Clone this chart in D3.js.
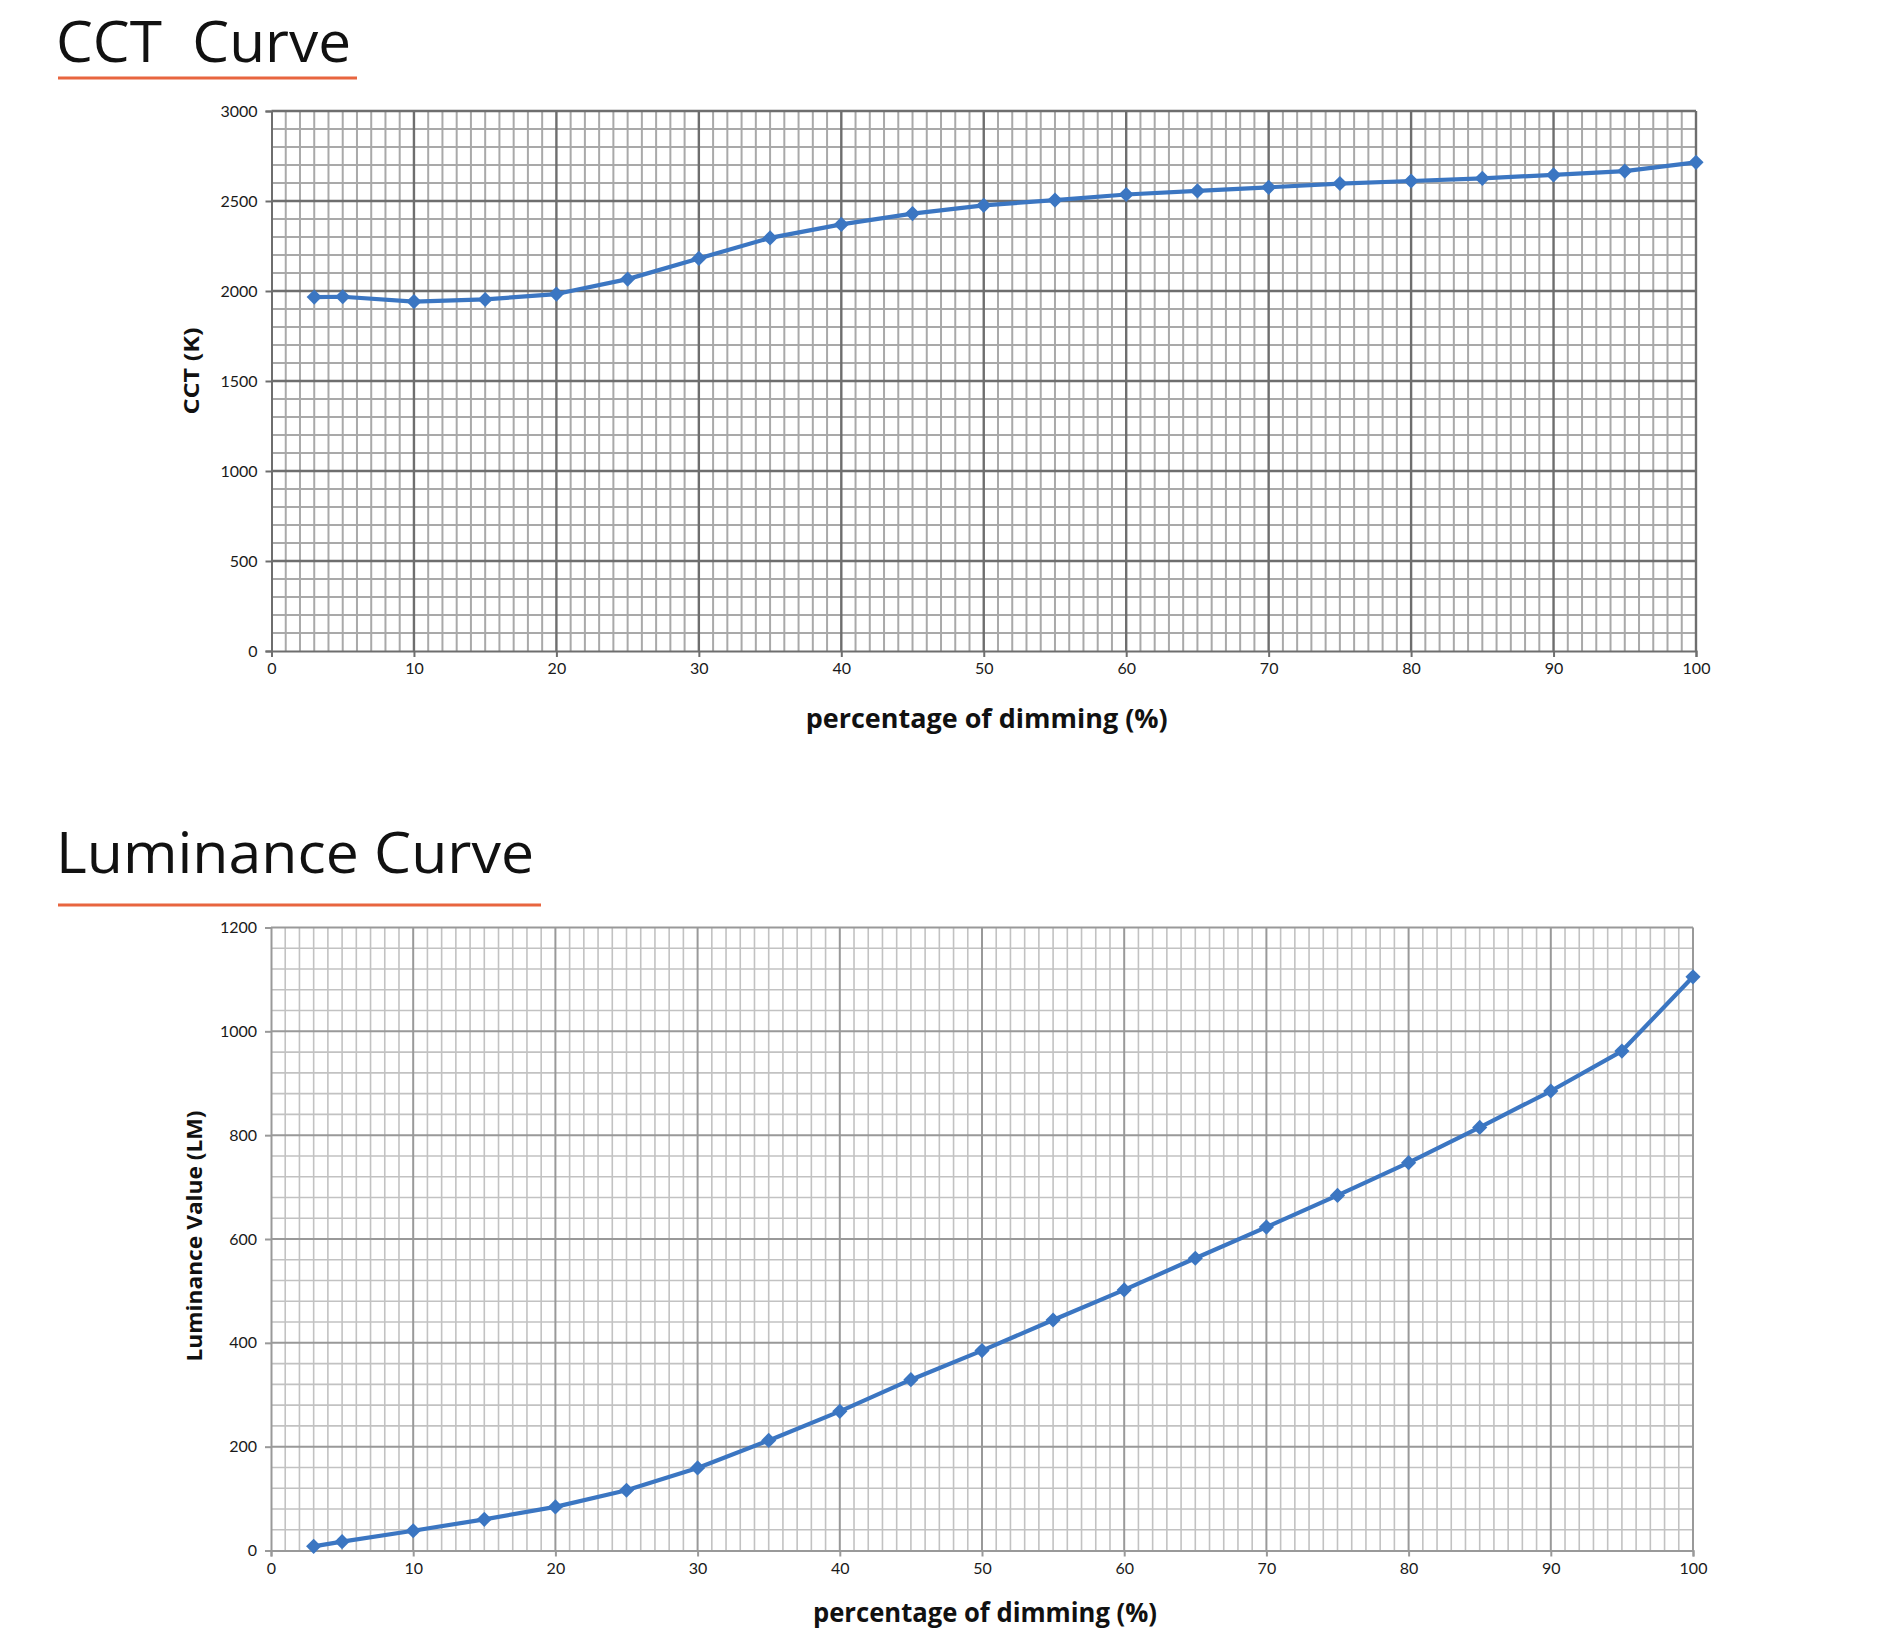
<!DOCTYPE html>
<html>
<head>
<meta charset="utf-8">
<script src="https://cdn.jsdelivr.net/npm/d3@7"></script>
<style>
  html, body { margin: 0; padding: 0; background: #ffffff; }
  svg { display: block; }
</style>
</head>
<body>
<svg id="chart" width="1900" height="1647"></svg>
<script>
// ---- data ----
const dimming = [3, 5, 10, 15, 20, 25, 30, 35, 40, 45, 50, 55, 60, 65, 70, 75, 80, 85, 90, 95, 100];
const cctValues = [1966, 1968, 1941, 1953, 1983, 2066, 2181, 2295, 2370, 2430, 2476, 2505, 2536, 2556, 2576, 2597, 2611, 2626, 2645, 2666, 2715];
const lumValues = [8, 17, 38, 60, 84, 116, 159, 212, 268, 329, 385, 444, 502, 563, 623, 684, 747, 815, 885, 962, 1105];
const xTicks = [0, 10, 20, 30, 40, 50, 60, 70, 80, 90, 100];
const cctTicks = [0, 500, 1000, 1500, 2000, 2500, 3000];
const lumTicks = [0, 200, 400, 600, 800, 1000, 1200];
const titles = ["CCT  Curve", "Luminance Curve"];
const xLabel = "percentage of dimming (%)";
const yLabels = ["CCT (K)", "Luminance Value (LM)"];

const svg = d3.select("#chart");
svg.append("rect").attr("width", 1900).attr("height", 1647).attr("fill", "#fff");

const LINE = "#3b76c2";

function drawChart(cfg) {
  const g = svg.append("g");
  const x = d3.scaleLinear().domain([0, 100]).range([cfg.left, cfg.right]);
  const y = d3.scaleLinear().domain([0, cfg.ymax]).range([cfg.bottom, cfg.top]);

  // title
  g.append("text")
    .attr("x", 56).attr("y", cfg.titleY)
    .attr("font-family", "'Open Sans', 'Noto Sans', sans-serif")
    .attr("font-size", 56)
    .attr("fill", "#111")
    .attr("textLength", cfg.titleLen)
    .attr("lengthAdjust", "spacingAndGlyphs")
    .attr("xml:space", "preserve")
    .style("white-space", "pre")
    .text(cfg.title);
  g.append("line")
    .attr("x1", 58).attr("x2", cfg.ulineEnd)
    .attr("y1", cfg.ulineY).attr("y2", cfg.ulineY)
    .attr("stroke", "#e8653f").attr("stroke-width", 3);

  // minor grid
  const minorX = d3.range(0, 101, 1).filter(v => v % 10 !== 0);
  const minorY = d3.range(0, cfg.ymax + 1, cfg.minorStep).filter(v => v % cfg.majorStep !== 0);
  g.append("g").selectAll("line").data(minorX).join("line")
    .attr("x1", d => x(d)).attr("x2", d => x(d))
    .attr("y1", y(0)).attr("y2", y(cfg.ymax))
    .attr("stroke", cfg.minorColor).attr("stroke-width", cfg.minorW);
  g.append("g").selectAll("line").data(minorY).join("line")
    .attr("y1", d => y(d)).attr("y2", d => y(d))
    .attr("x1", x(0)).attr("x2", x(100))
    .attr("stroke", cfg.minorColor).attr("stroke-width", cfg.minorW);
  // major grid
  g.append("g").selectAll("line").data(xTicks.filter(v => v > 0)).join("line")
    .attr("x1", d => x(d)).attr("x2", d => x(d))
    .attr("y1", y(0)).attr("y2", y(cfg.ymax))
    .attr("stroke", cfg.majorColor).attr("stroke-width", cfg.majorW);
  g.append("g").selectAll("line").data(cfg.yTicks.filter(v => v > 0)).join("line")
    .attr("y1", d => y(d)).attr("y2", d => y(d))
    .attr("x1", x(0)).attr("x2", x(100))
    .attr("stroke", cfg.majorColor).attr("stroke-width", cfg.majorW);

  // axes
  const xAxis = d3.axisBottom(x).tickValues(xTicks).tickSize(6).tickPadding(6).tickFormat(d3.format("d"));
  const yAxis = d3.axisLeft(y).tickValues(cfg.yTicks).tickSize(6).tickPadding(8).tickFormat(d3.format("d"));
  const ax = g.append("g").attr("transform", `translate(0,${y(0)})`).call(xAxis);
  const ay = g.append("g").attr("transform", `translate(${x(0)},0)`).call(yAxis);
  [ax, ay].forEach(a => {
    a.select(".domain").attr("stroke", cfg.majorColor).attr("stroke-width", 2);
    a.selectAll(".tick line").attr("stroke", cfg.majorColor).attr("stroke-width", 2);
    a.selectAll(".tick text")
      .attr("font-family", "Lato, 'Open Sans', sans-serif")
      .attr("font-size", 16)
      .attr("fill", "#1a1a1a");
  });

  // axis labels
  g.append("text")
    .attr("x", (x(0) + x(100)) / 2 + 3).attr("y", cfg.xLabelY)
    .attr("text-anchor", "middle")
    .attr("font-family", "'Open Sans', 'Noto Sans', sans-serif")
    .attr("font-weight", "bold")
    .attr("font-size", cfg.xLabelSize)
    .attr("fill", "#111")
    .attr("textLength", cfg.xLabelLen)
    .attr("lengthAdjust", "spacingAndGlyphs")
    .text(xLabel);
  g.append("text")
    .attr("transform", `translate(${cfg.yLabelX},${cfg.yLabelCY}) rotate(-90)`)
    .attr("text-anchor", "middle")
    .attr("font-family", "'Open Sans', 'Noto Sans', sans-serif")
    .attr("font-weight", "bold")
    .attr("font-size", cfg.yLabelSize)
    .attr("fill", "#111")
    .attr("textLength", cfg.yLabelLen)
    .attr("lengthAdjust", "spacingAndGlyphs")
    .text(cfg.yLabel);

  // series
  const pts = dimming.map((d, i) => [d, cfg.values[i]]);
  g.append("path")
    .datum(pts)
    .attr("d", d3.line().x(d => x(d[0])).y(d => y(d[1])))
    .attr("fill", "none")
    .attr("stroke", LINE)
    .attr("stroke-width", 4.2)
    .attr("stroke-linejoin", "round");
  const sym = d3.symbol().type(d3.symbolSquare).size(115);
  g.append("g").selectAll("path").data(pts).join("path")
    .attr("d", sym)
    .attr("transform", d => `translate(${x(d[0])},${y(d[1])}) rotate(45)`)
    .attr("fill", LINE);
}

drawChart({
  title: titles[0], titleY: 62, titleLen: 295, ulineY: 78, ulineEnd: 357,
  left: 271.5, right: 1696, top: 111, bottom: 651,
  ymax: 3000, yTicks: cctTicks, minorStep: 100, majorStep: 500,
  minorColor: "#a9a9a9", minorW: 2, majorColor: "#6e6e6e", majorW: 2.4,
  values: cctValues,
  xLabelY: 728, xLabelSize: 27, xLabelLen: 362,
  yLabel: yLabels[0], yLabelX: 199, yLabelCY: 371, yLabelSize: 22, yLabelLen: 87
});

drawChart({
  title: titles[1], titleY: 873, titleLen: 478, ulineY: 905, ulineEnd: 541,
  left: 271, right: 1693, top: 927.5, bottom: 1550.5,
  ymax: 1200, yTicks: lumTicks, minorStep: 40, majorStep: 200,
  minorColor: "#c2c2c2", minorW: 1.6, majorColor: "#999999", majorW: 2,
  values: lumValues,
  xLabelY: 1622, xLabelSize: 26, xLabelLen: 344,
  yLabel: yLabels[1], yLabelX: 202, yLabelCY: 1236, yLabelSize: 22, yLabelLen: 251
});
</script>
</body>
</html>
